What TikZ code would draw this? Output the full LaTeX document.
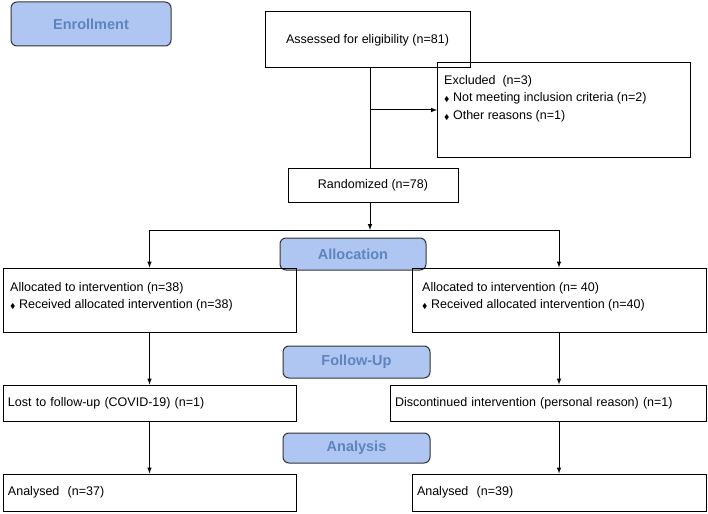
\documentclass[tikz,border=0pt]{standalone}
\usepackage{amssymb}
\usepackage{fontspec}
\setmainfont{Liberation Sans}
\usetikzlibrary{positioning}
\definecolor{stagefill}{HTML}{AFC6F2}
\definecolor{stagetext}{HTML}{5E84BE}
\newcommand{\dia}{{\scriptsize$\blacklozenge$}\ }
\begin{document}
\begin{tikzpicture}[x=1pt,y=-1pt,font=\fontsize{12.5}{17.5}\selectfont]
\tikzstyle{box}=[draw, line width=1pt, inner sep=0pt]
\tikzstyle{stage}=[draw=black!80, fill=stagefill, rounded corners=6pt, line width=1pt]
\tikzstyle{stagelbl}=[text=stagetext, font=\fontsize{14.5}{16}\selectfont\bfseries]
\tikzstyle{arr}=[line width=1pt, ->, >=latex]
\useasboundingbox (0,0) rectangle (708,513);
% stage labels
\draw[stage] (11,2) rectangle (171,46) node[midway, stagelbl] (enr) {Enrollment};
\draw[stage] (280,238) rectangle (426,270) node[midway, stagelbl] (alloc) {Allocation};
\draw[stage] (283,346) rectangle (430,378) node[midway, stagelbl] (fol) {Follow-Up};
\draw[stage] (283,433) rectangle (430,463) node[midway, stagelbl] (ana) {Analysis};
% boxes
\node[box, minimum width=205, minimum height=56] (asse) at (367.5,40) {Assessed for eligibility (n=81)};
\node[box, minimum width=253, minimum height=95, anchor=north west] (excl) at (437,62) {};
\node[anchor=north west, align=left, inner sep=0pt] (excltxt) at (444,75)
  {Excluded\ \ (n=3)\\ \dia Not meeting inclusion criteria (n=2)\\ \dia Other reasons (n=1)};
\node[box, minimum width=170, minimum height=34] (rand) at (373,185) {Randomized (n=78)};
\node[box, minimum width=293, minimum height=64] (allL) at (149.5,300) {};
\node[anchor=north west, align=left, inner sep=0pt] (allLt) at (10,282)
  {Allocated to intervention (n=38)\\ \dia Received allocated intervention (n=38)};
\node[box, minimum width=294, minimum height=64] (allR) at (559,300) {};
\node[anchor=north west, align=left, inner sep=0pt] (allRt) at (422,282)
  {Allocated to intervention (n= 40)\\ \dia Received allocated intervention (n=40)};
\node[box, minimum width=293, minimum height=36, text width=283, align=left] (lost) at (149.5,403)
  {Lost to follow-up (COVID-19) (n=1)};
\node[box, minimum width=316, minimum height=36, text width=306, align=left] (disc) at (548,403)
  {Discontinued intervention (personal reason) (n=1)};
\node[box, minimum width=293, minimum height=37, text width=283, align=left] (anL) at (149.5,492.5)
  {Analysed\ \ (n=37)};
\node[box, minimum width=294, minimum height=37, text width=284, align=left] (anR) at (559,492.5)
  {Analysed\ \ (n=39)};
% connectors
\coordinate (ex) at (370,110);
\coordinate (sp) at (370,230);
\draw[line width=1pt] (asse.south -| ex) -- (rand.north -| ex);
\draw[arr] (ex) -- (ex -| excl.west);
\draw[arr] (rand.south -| sp) -- (sp);
\draw[arr] (sp) -| (allL.north);
\draw[arr] (sp) -| (allR.north);
\draw[arr] (allL) -- (lost);
\draw[arr] (allR) -- (allR |- disc.north);
\draw[arr] (lost) -- (anL);
\draw[arr] (disc.south -| allR) -- (anR);
\end{tikzpicture}
\end{document}
